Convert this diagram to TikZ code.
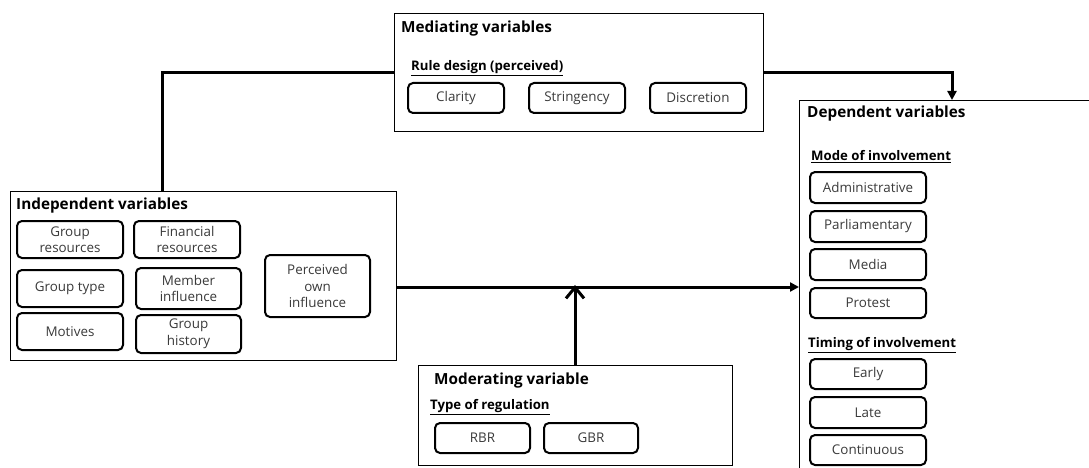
\documentclass[tikz,border=0pt]{standalone}
\usepackage{fontspec}
\setmainfont{Open Sans}
\usetikzlibrary{arrows.meta}
\definecolor{boxtext}{HTML}{3A3A3A}
\tikzset{
  container/.style={draw=black, line width=1pt, fill=white, inner sep=0pt},
  item/.style={draw=black, line width=2pt, rounded corners=5pt, inner sep=1pt,
    align=center, text=boxtext, font=\fontsize{13.4}{16.5}\selectfont},
  heading/.style={anchor=west, inner sep=0pt, font=\fontsize{15.3}{17}\selectfont\bfseries},
  subheading/.style={anchor=west, inner sep=0pt, font=\fontsize{13.2}{15}\selectfont\bfseries},
  conn/.style={line width=3pt},
  mainarrow/.style={conn, -{Triangle[length=9pt,width=9pt]}},
  openarrow/.style={conn, -{Straight Barb[length=11pt,width=18pt,line width=3pt]}}
}
\begin{document}
\begin{tikzpicture}[x=1pt, y=-1pt]
\useasboundingbox (0,0) rectangle (1089,468);
\clip (0,0) rectangle (1089,468);

% containers
\node[container, minimum width=369pt, minimum height=118pt] (med) at (578.5,73) {};
\node[container, minimum width=386pt, minimum height=169pt] (ind) at (203,275.5) {};
\node[container, minimum width=300pt, minimum height=380pt, anchor=north west] (dep) at (799,100) {};
\node[container, minimum width=314pt, minimum height=100pt] (mod) at (575,415) {};

% mediating variables
\node[heading] (medT) at (401,29) {Mediating variables};
\node[subheading] (medS) at (411,68) {\underline{Rule design (perceived)}};
\node[item, minimum width=96pt, minimum height=30pt] (clar) at (456,98) {Clarity};
\node[item, minimum width=96pt, minimum height=30pt] (strg) at (577,98) {Stringency};
\node[item, minimum width=96pt, minimum height=30pt] (disc) at (698,98) {Discretion};

% independent variables
\node[heading] (indT) at (16,206) {Independent variables};
\node[item, minimum width=106pt, minimum height=37pt] (gres) at (70,239.5) {Group\\resources};
\node[item, minimum width=106pt, minimum height=37pt] (fres) at (187,239.5) {Financial\\resources};
\node[item, minimum width=106pt, minimum height=37pt] (gtyp) at (70,288.5) {Group type};
\node[item, minimum width=105pt, minimum height=41pt] (memb) at (188.5,288.5) {Member\\influence};
\node[item, minimum width=106pt, minimum height=37pt] (motv) at (70,331.5) {Motives};
\node[item, minimum width=105pt, minimum height=38pt] (ghis) at (188.5,334) {Group\\history};
\node[item, minimum width=105pt, minimum height=62pt] (pown) at (317.5,286) {Perceived\\own\\influence};

% dependent variables
\node[heading] (depT) at (807,114) {Dependent variables};
\node[subheading] (depS1) at (811,157) {\underline{Mode of involvement}};
\node[item, minimum width=116pt, minimum height=31pt] (admn) at (868,187.5) {Administrative};
\node[item, minimum width=116pt, minimum height=31pt] (parl) at (868,226.5) {Parliamentary};
\node[item, minimum width=116pt, minimum height=31pt] (medi) at (868,264.5) {Media};
\node[item, minimum width=116pt, minimum height=30pt] (prot) at (868,303) {Protest};
\node[subheading] (depS2) at (808,345) {\underline{Timing of involvement}};
\node[item, minimum width=116pt, minimum height=30pt] (erly) at (868,374) {Early};
\node[item, minimum width=116pt, minimum height=31pt] (late) at (868,412.5) {Late};
\node[item, minimum width=116pt, minimum height=30pt] (cont) at (868,450) {Continuous};

% moderating variable
\node[heading] (modT) at (434,381) {Moderating variable};
\node[subheading] (modS) at (430,407) {\underline{Type of regulation}};
\node[item, minimum width=95pt, minimum height=30pt] (rbr) at (482.5,438) {RBR};
\node[item, minimum width=94pt, minimum height=30pt] (gbr) at (591,438) {GBR};

% connectors
\coordinate (j1) at (162,73);
\coordinate (j2) at (952,100);
\coordinate (j3) at (575,287);
\draw[conn] (ind.north -| j1) |- (med.west);
\draw[mainarrow] (med.east) -| (j2);
\draw[mainarrow] (ind.east |- j3) -- (dep.west |- j3);
\draw[openarrow] (mod.north) -- ([yshift=2pt]j3);
\end{tikzpicture}
\end{document}
